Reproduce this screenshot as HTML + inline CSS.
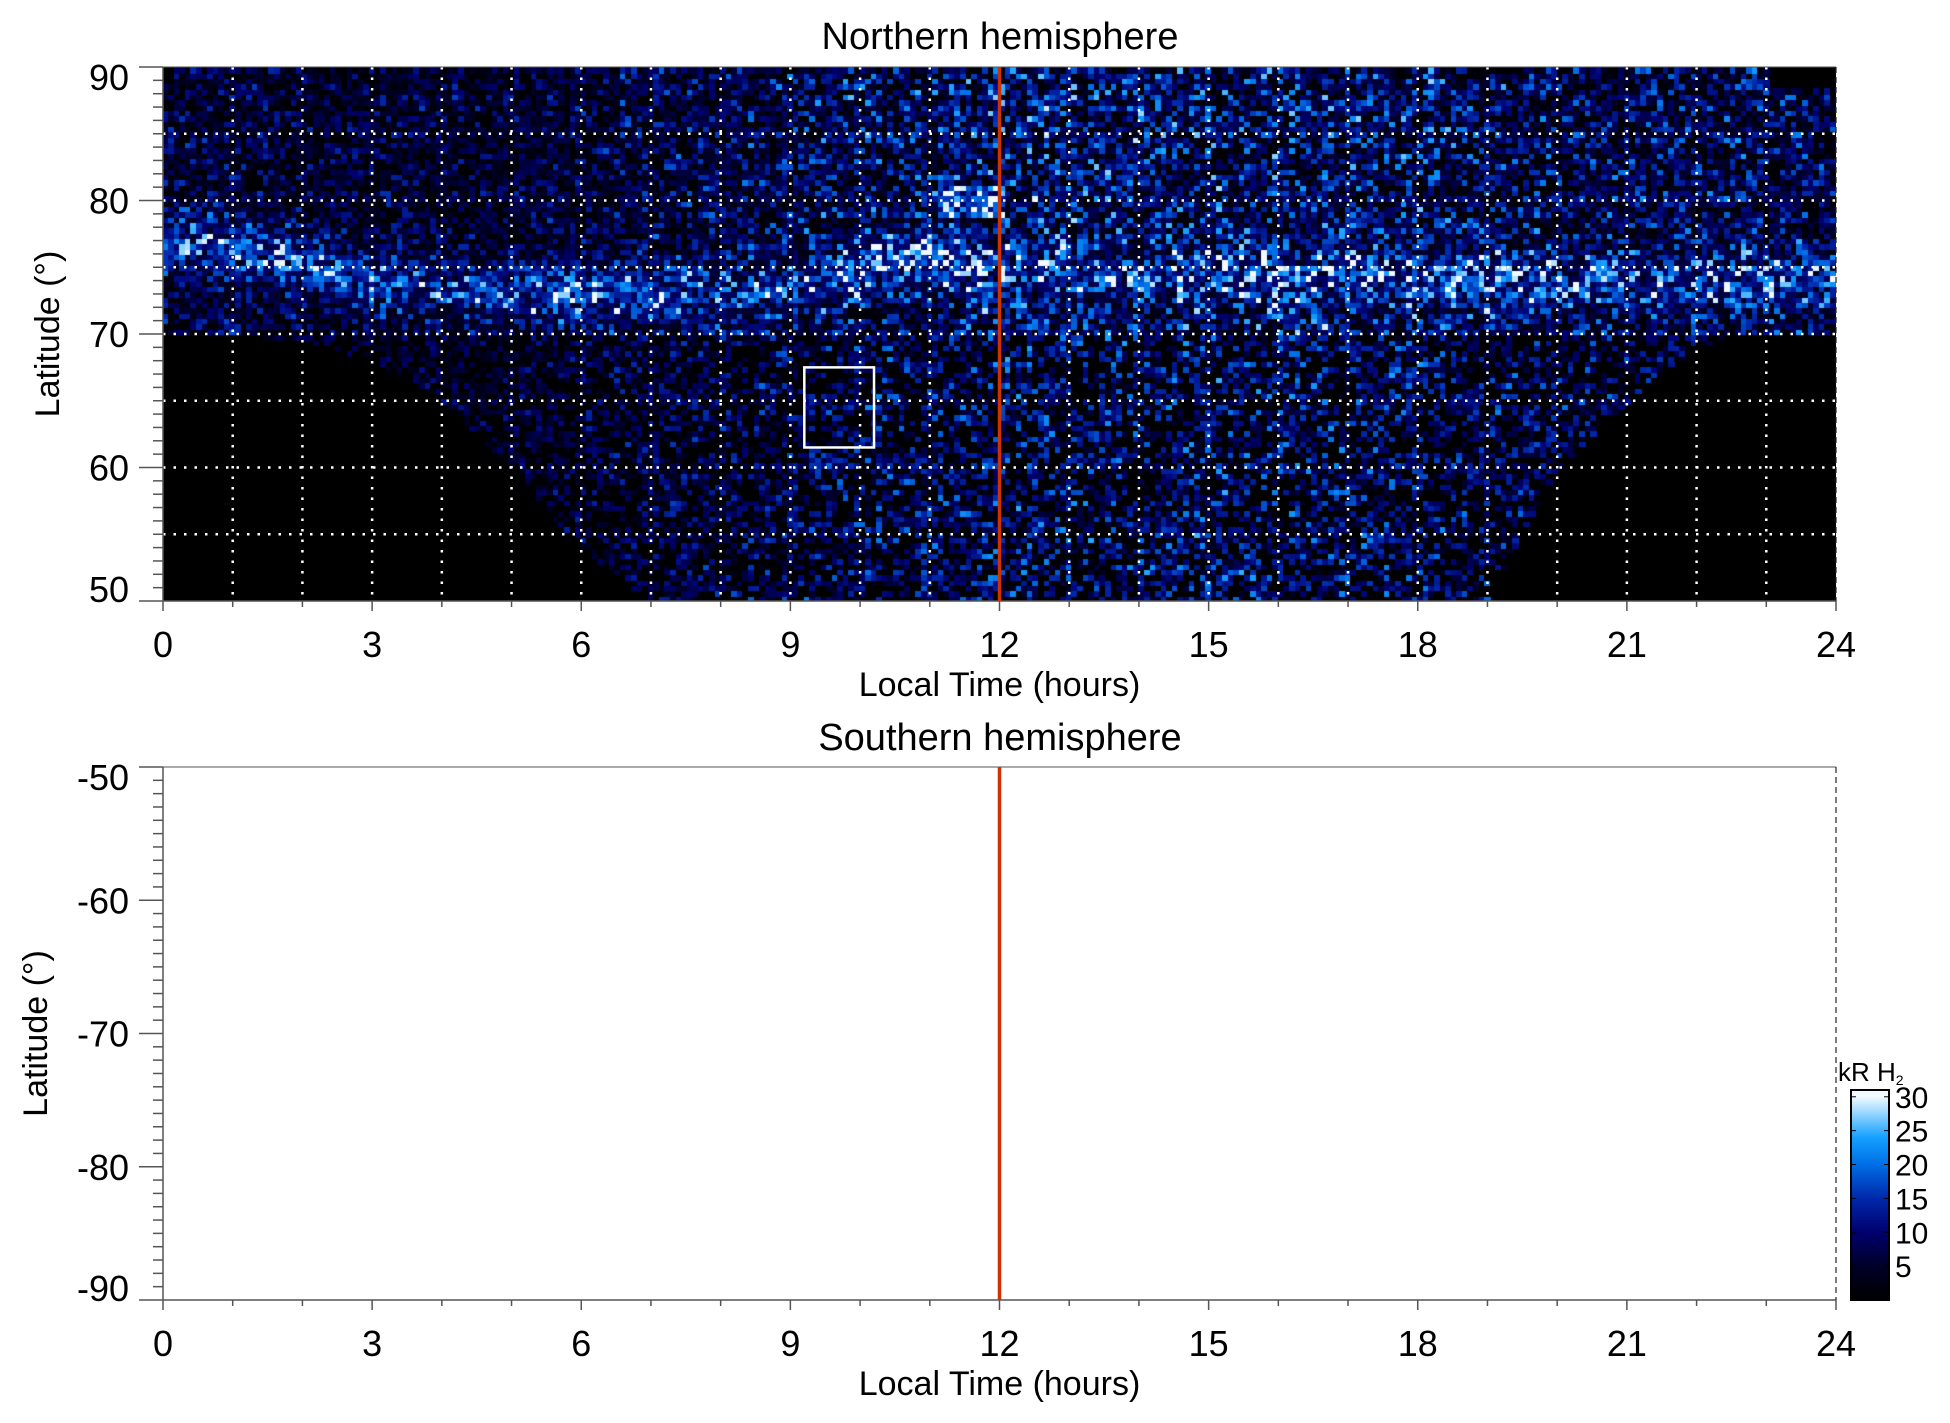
<!DOCTYPE html>
<html><head><meta charset="utf-8">
<style>
html,body{margin:0;padding:0;background:#fff;width:1950px;height:1423px;overflow:hidden}
#wrap{position:relative;width:1950px;height:1423px}
svg{position:absolute;left:0;top:0}
canvas{position:absolute}
text{font-family:"Liberation Sans",sans-serif;fill:#000}
</style></head>
<body>
<div id="wrap">
<canvas id="heat" style="left:163px;top:67px" width="1673" height="534"></canvas>
<svg id="svg" width="1950" height="1423"></svg>
</div>
<script>
// ---- data ----
const hoursLT = [0,1,2,3,4,5,6,7,8,9,10,11,12,13,14,15,16,17,18,19,20,21,22,23,24];
const ovalLat = [77,76.5,75.5,74,73.5,73,73,73,73,73.5,75,76,75,74.5,74.5,74.5,74.5,74.5,74,74,74,74,74,74,74];
const ovalPeak = [16,20,22,18,17,19,20,17,14,12,18,20,14,12,12,12,13,14,16,16,14,13,13,16,15];
const lowBound = [70,70,69.5,68,65,60,54,50,50,50,50,50,50,50,50,50,50,50,50,50,60,65,69,70,70];
const bgLevel = [11,10,9,9,9,9,10,11,12,13,14,15,16,16,16,16,16,15,15,14,13,13,13,13,13];
const xTicks = [0,3,6,9,12,15,18,21,24];
const yTicksN = [50,60,70,80,90];
const yTicksS = [-50,-60,-70,-80,-90];
const cbTicks = [5,10,15,20,25,30];
const boxLT = [9.2,10.2], boxLat = [61.5,67.5];
const noonLT = 12;

const X0=163,X1=1836;
const xs = lt => X0 + (X1-X0)*lt/24;
const yN = lat => 67 + (90-lat)/40*534;
const yS = lat => 767 + (-50-lat)/40*533;
const interp=(arr,lt)=>{const i=Math.min(23,Math.floor(lt));const f=lt-i;return arr[i]*(1-f)+arr[i+1]*f;};

function cmap(v){
  const stops=[[0,0,0,0],[5,0,0,40],[10,0,0,110],[15,0,40,170],[20,0,110,230],[24,20,160,255],[30,240,250,255]];
  v=Math.max(0,Math.min(30,v));
  for(let i=1;i<stops.length;i++){if(v<=stops[i][0]){const a=stops[i-1],b=stops[i];const f=(v-a[0])/(b[0]-a[0]);
    return `rgb(${Math.round(a[1]+(b[1]-a[1])*f)},${Math.round(a[2]+(b[2]-a[2])*f)},${Math.round(a[3]+(b[3]-a[3])*f)})`;}}
  return 'rgb(240,250,255)';
}
// deterministic speckle texture
function hash(i,j){let h=(i*374761393+j*668265263)^0x5bd1e995;h=(h^(h>>>13))*1274126177;h=h^(h>>>16);return ((h>>>0)%10000)/10000;}

// ---- heatmap ----
const cv=document.getElementById('heat');const ctx=cv.getContext('2d');
ctx.fillStyle='#000';ctx.fillRect(0,0,1673,534);
const dLT=0.08,dLat=0.4;
for(let i=0;i*dLT<24;i++){
  const lt=i*dLT+dLT/2;
  const lb=interp(lowBound,lt), oL=interp(ovalLat,lt), oP=interp(ovalPeak,lt), bg=interp(bgLevel,lt);
  for(let j=0;j*dLat<40;j++){
    const lat=50+j*dLat+dLat/2;
    if(lat<lb) continue;
    if(lat>88.3 && lt>23) continue;
    const r=hash(i,j), r2=hash(j+7,i+3);
    let base = lat>=70 ? bg : bg*0.85;
    let v = base*(0.1+1.5*r*r2+0.3*r);
    if(lat<70 && r<0.45) v=0;
    if(lat>=70 && r<0.3) v=v*0.2;
    const d=(lat-oL)/2.0;
    v += oP*Math.exp(-d*d)*(0.2+0.8*r2);
    if(Math.abs(lt-11.6)<0.5 && Math.abs(lat-80)<1.2) v+=12*r2+6;
    const x=xs(lt-dLT/2)-X0, y=yN(lat+dLat/2)-67;
    ctx.fillStyle=cmap(v);
    ctx.fillRect(Math.floor(x),Math.floor(y),Math.ceil(1673*dLT/24)+1,Math.ceil(534*dLat/40)+1);
  }
}

// ---- svg overlay ----
const svg=document.getElementById('svg');const NS='http://www.w3.org/2000/svg';
function el(tag,attrs,parent){const e=document.createElementNS(NS,tag);for(const k in attrs)e.setAttribute(k,attrs[k]);(parent||svg).appendChild(e);return e;}
function txt(x,y,s,size,anchor,name,parent){const t=el('text',{x:x,y:y,'font-size':size,'text-anchor':anchor||'middle'},parent);t.textContent=s;
  
  return t;}

function panel(name,yf,latMin,latMax,yTicks,top){
  const g=el('g',{});
  
  
  const yT=yf(latMax), yB=yf(latMin);
  if(top){
    for(let h=1;h<24;h++){const l=el('line',{x1:xs(h),x2:xs(h),y1:yT,y2:yB,stroke:'#fff','stroke-width':2.5,'stroke-dasharray':'2.5 8'},g);
      }
    for(let la=latMin+5;la<latMax;la+=5){const l=el('line',{x1:X0,x2:X1,y1:yf(la),y2:yf(la),stroke:'#fff','stroke-width':2.5,'stroke-dasharray':'2.5 8'},g);
      }
  }
  const ax=el('line',{x1:X0,x2:X1,y1:yB,y2:yB,stroke:'#555','stroke-width':1.5},g);
  
  const ay=el('line',{x1:X0,x2:X0,y1:yT,y2:yB,stroke:'#555','stroke-width':1.5},g);
  
  el('line',{x1:X0,x2:X1,y1:yT,y2:yT,stroke:'#555','stroke-width':1},g);
  el('line',{x1:X1,x2:X1,y1:yT,y2:yB,stroke:'#222','stroke-width':1.2,'stroke-dasharray':'6 4'},g);
  for(let h=0;h<=24;h++){el('line',{x1:xs(h),x2:xs(h),y1:yB,y2:yB+(h%3==0?10:6),stroke:'#555','stroke-width':1.5},g);}
  xTicks.forEach(h=>txt(xs(h),yB+56,String(h),36,'middle','x-tick-label',g));
  for(let k=0;k<=40;k++){const la=latMin+k;const y=yf(la);const major=(la%10==0);
    el('line',{x1:major?X0-24:X0-10,x2:X0,y1:y,y2:y,stroke:'#555','stroke-width':1.5},g);}
  yTicks.forEach((v,i)=>{let off=13; if(v===latMax) off=23; if(v===latMin) off=1;
    txt(X0-34,yf(v)+off,String(v),36,'end','y-tick-label',g);});
  txt((X0+X1)/2,yB+95,'Local Time (hours)',34,'middle','x-axis-title',g);
  const yt=txt(0,0,'Latitude (°)',34,'middle','y-axis-title',g);
  yt.setAttribute('transform',`translate(${top?59:47},${(yT+yB)/2}) rotate(-90)`);
  const noon=el('line',{x1:xs(noonLT),x2:xs(noonLT),y1:yT,y2:yB,stroke:'#cc3300','stroke-width':3.5},g);
  
  return g;
}
const gN=panel('northern-panel',yN,50,90,yTicksN,true);
txt(1000,49,'Northern hemisphere',38,'middle','northern-title');
const box=el('rect',{x:xs(boxLT[0]),y:yN(boxLat[1]),width:xs(boxLT[1])-xs(boxLT[0]),height:yN(boxLat[0])-yN(boxLat[1]),fill:'none',stroke:'#fff','stroke-width':2.5});

const gS=panel('southern-panel',yS,-90,-50,yTicksS,false);
txt(1000,750,'Southern hemisphere',38,'middle','southern-title');

// ---- colorbar ----
const cbG=el('g',{});


const defs=el('defs',{},cbG);const lg=el('linearGradient',{id:'cbg',x1:0,y1:1,x2:0,y2:0},defs);
for(let v=0;v<=31;v+=1){el('stop',{offset:(v/31).toFixed(3),'stop-color':cmap(v)},lg);}
const cbTop=1090,cbBot=1300,cbv=v=>cbBot-(cbBot-cbTop)*v/31;
el('rect',{x:1851,y:cbTop,width:38,height:cbBot-cbTop,fill:'url(#cbg)',stroke:'#000','stroke-width':2},cbG);
cbTicks.forEach(v=>{el('line',{x1:1851,x2:1856,y1:cbv(v),y2:cbv(v),stroke:'#000','stroke-width':1},cbG);
  el('line',{x1:1884,x2:1889,y1:cbv(v),y2:cbv(v),stroke:'#000','stroke-width':1},cbG);
  txt(1895,cbv(v)+11,String(v),30,'start','colorbar-tick-label',cbG);});
const kt=txt(1838,1081,'kR H',26,'start','colorbar-title',cbG);
const sub=el('tspan',{'font-size':14,dy:4},kt);sub.textContent='2';
</script>
</body></html>
